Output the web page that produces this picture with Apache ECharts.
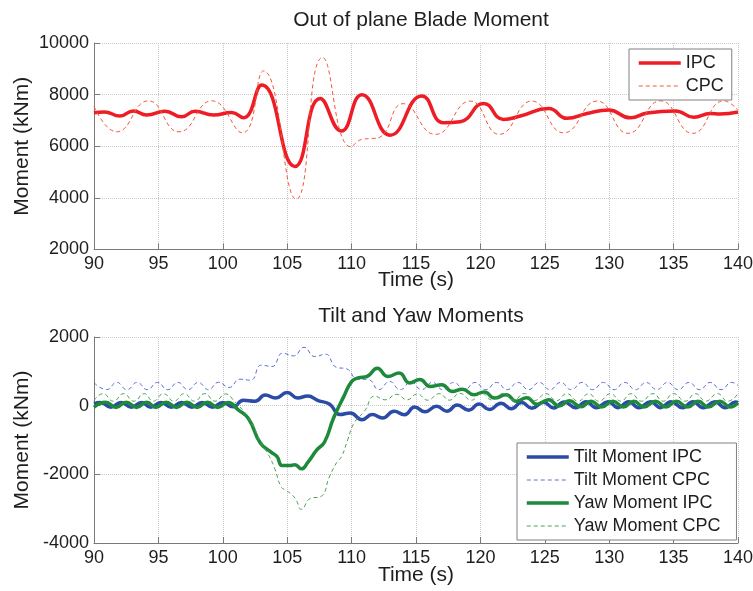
<!DOCTYPE html>
<html>
<head>
<meta charset="utf-8">
<script src="https://cdn.jsdelivr.net/npm/echarts@6/dist/echarts.min.js"></script>
<style>
  html, body { margin: 0; padding: 0; background: #fff; }
  #chart { width: 753px; height: 591px; }
</style>
</head>
<body>
<div id="chart"></div>
<script>
// time axis (s)
const timeRange = [90, 140];
const timeStep = 5;

// Out of plane blade moment [time, kNm]
const bladeIPC = [
  [90, 7300], [90.8, 7330], [92.02, 7170], [93.06, 7370], [94.1, 7210], [95.5, 7360],
  [96.8, 7140], [97.85, 7360], [99.27, 7210], [100.7, 7310], [101.6, 7100], [103.03, 8370],
  [105.6, 5220], [107.56, 7850], [109.2, 6590], [110.8, 8000], [113.0, 6430], [115.46, 7950],
  [117.14, 6910], [118.44, 6950], [120.25, 7660], [121.8, 7040], [123.1, 7170], [125.3, 7460],
  [126.73, 7080], [128.28, 7270], [129.96, 7400], [131.65, 7100], [132.95, 7290], [135.15, 7370],
  [136.57, 7120], [137.86, 7270], [138.6, 7250], [140, 7330]
];
const bladeCPC = [
  [90, 7550], [91.76, 6560], [94.22, 7760], [96.6, 6560], [99.15, 7760], [101.53, 6520],
  [103.16, 8920], [105.7, 3950], [107.74, 9440], [109.94, 5980], [110.9, 6280], [111.6, 6300],
  [112.2, 6350], [114.0, 7650], [116.5, 6460], [119.22, 7750], [121.47, 6460], [124.0, 7750],
  [126.47, 6520], [129.06, 7750], [131.47, 6500], [133.98, 7760], [136.49, 6500], [138.9, 7760],
  [140, 7400]
];

// Tilt and yaw moments [time, kNm]
const tiltIPC = [
  [90, 60], [90.5, 95], [91.3, -45], [92.1, 95], [92.9, -45], [93.7, 95], [94.4, -45], [95.2, 95],
  [96.0, -45], [96.8, 95], [97.6, -45], [98.4, 95], [99.2, -45], [100.0, 95], [100.8, -30],
  [101.6, 160], [102.5, 130], [103.3, 310], [104.1, 220], [105.0, 385], [105.8, 225], [106.6, 280],
  [107.4, 150], [108.3, 40], [109.1, -260], [109.9, -210], [110.8, -410], [111.6, -260], [112.4, -360],
  [113.3, -165], [114.1, -265], [114.9, -40], [115.7, -180], [116.6, -20], [117.4, -160], [118.2, 20],
  [119.1, -130], [119.9, 50], [120.7, -110], [121.6, 70], [122.4, -90], [123.2, 90], [124.0, -75],
  [124.9, 100], [125.7, -65], [126.5, 110], [127.4, -60], [128.2, 115], [129.0, -60], [129.9, 115],
  [130.7, -60], [131.5, 115], [132.3, -60], [133.2, 115], [134.0, -60], [134.8, 115], [135.7, -60],
  [136.5, 115], [137.3, -60], [138.2, 115], [139.0, -60], [139.8, 110], [140, 90]
];
const tiltCPC = [
  [90, 670], [90.98, 468], [91.77, 677], [92.56, 466], [93.35, 677], [94.14, 466], [94.93, 677],
  [95.72, 466], [96.51, 677], [97.3, 466], [98.09, 677], [98.88, 466], [99.67, 680], [100.5, 530],
  [101.33, 770], [102.16, 740], [102.99, 1180], [103.82, 1140], [104.65, 1530], [105.48, 1450],
  [106.31, 1700], [107.14, 1430], [107.97, 1500], [108.8, 1120], [109.63, 1070], [110.46, 770],
  [111.29, 760], [112.12, 468], [112.95, 705], [113.78, 468], [114.61, 690], [115.44, 468],
  [116.27, 680], [117.1, 466], [117.93, 677], [118.76, 466], [119.59, 677], [120.42, 466],
  [121.25, 677], [122.08, 466], [122.91, 677], [123.74, 466], [124.57, 677], [125.4, 466],
  [126.23, 677], [127.06, 466], [127.89, 677], [128.72, 466], [129.55, 677], [130.38, 466],
  [131.21, 677], [132.04, 466], [132.87, 677], [133.7, 466], [134.53, 677], [135.36, 466],
  [136.19, 677], [137.02, 466], [137.85, 677], [138.68, 466], [139.51, 677], [140, 590]
];
const yawIPC = [
  [90, -45], [90.9, 100], [91.7, -50], [92.5, 100], [93.3, -50], [94.1, 100], [94.8, -50], [95.6, 100],
  [96.4, -50], [97.2, 100], [98.0, -50], [98.8, 100], [99.6, -50], [100.4, 90], [101.2, -120],
  [102.0, -380], [102.9, -1080], [103.7, -1340], [104.2, -1480], [104.6, -1740], [105.2, -1745],
  [105.6, -1720], [106.1, -1840], [106.6, -1650], [107.3, -1290], [107.9, -1060], [108.6, -360],
  [109.4, 270], [110.0, 700], [110.5, 810], [111.2, 850], [112.0, 1090], [112.8, 850], [113.7, 950],
  [114.5, 660], [115.3, 760], [116.1, 560], [117.0, 610], [117.8, 415], [118.6, 480], [119.5, 320],
  [120.3, 400], [121.1, 220], [122.0, 320], [122.8, 130], [123.6, 230], [124.4, 40], [125.3, 175],
  [126.1, -10], [126.9, 140], [127.8, -30], [128.6, 130], [129.4, -40], [130.3, 130], [131.1, -40],
  [131.9, 130], [132.7, -40], [133.6, 130], [134.4, -40], [135.2, 130], [136.1, -40], [136.9, 130],
  [137.7, -40], [138.6, 130], [139.4, -40], [140, 80]
];
const yawCPC = [
  [90, 150], [90.7, 350], [91.5, 130], [92.3, 350], [93.1, 130], [93.9, 350], [94.6, 130], [95.4, 350],
  [96.2, 130], [97.0, 350], [97.8, 130], [98.6, 350], [99.4, 130], [100.2, 340], [101.0, 80],
  [101.8, -250], [102.5, -700], [102.9, -1050], [103.5, -1400], [104.0, -1800], [104.5, -2350],
  [104.8, -2450], [105.3, -2570], [105.7, -2750], [106.1, -3020], [106.8, -2700], [107.6, -2650],
  [108.3, -2050], [108.9, -1620], [109.2, -1500], [109.7, -990], [110.2, -500], [111.0, -160],
  [111.8, 280], [112.6, 170], [113.5, 330], [114.3, 170], [115.1, 340], [115.9, 160], [116.8, 350],
  [117.6, 160], [118.4, 360], [119.3, 160], [120.1, 360], [120.9, 165], [121.8, 360], [122.6, 160],
  [123.4, 355], [124.2, 150], [125.1, 350], [125.9, 140], [126.7, 350], [127.6, 130], [128.4, 350],
  [129.2, 130], [130.1, 350], [130.9, 130], [131.7, 350], [132.5, 130], [133.4, 350], [134.2, 130],
  [135.0, 350], [135.9, 130], [136.7, 350], [137.5, 130], [138.4, 350], [139.2, 130], [140, 350]
];

const titles = ['Out of plane Blade Moment', 'Tilt and Yaw Moments'];
const bladeRange = [2000, 10000];
const tiltYawRange = [-4000, 2000];
const momentStep = 2000;

const font = "'Liberation Sans', Arial, sans-serif";
const ink = '#1e1e1e';
const axisGray = '#7a7a7a';
const dotGray = '#c9c9c9';

function xAxis(gridIndex, gap) {
  return {
    type: 'value', gridIndex,
    min: timeRange[0], max: timeRange[1], interval: timeStep,
    name: 'Time (s)', nameLocation: 'middle', nameGap: gap, nameMoveOverlap: false,
    nameTextStyle: { fontFamily: font, fontSize: 21, color: ink },
    axisLine: { onZero: false, lineStyle: { color: axisGray, width: 1 } },
    axisTick: { inside: true, length: 6, lineStyle: { color: axisGray } },
    axisLabel: { fontFamily: font, fontSize: 18, color: ink, margin: 6 },
    splitLine: { show: true, lineStyle: { color: dotGray, type: 'dotted' } }
  };
}
function yAxis(gridIndex, range) {
  return {
    type: 'value', gridIndex,
    min: range[0], max: range[1], interval: momentStep,
    name: 'Moment (kNm)', nameLocation: 'middle', nameGap: 61, nameMoveOverlap: false,
    nameTextStyle: { fontFamily: font, fontSize: 21, color: ink },
    axisLine: { show: true, onZero: false, lineStyle: { color: axisGray, width: 1 } },
    axisTick: { show: true, inside: true, length: 6, lineStyle: { color: axisGray } },
    axisLabel: { fontFamily: font, fontSize: 18, color: ink, margin: 5, formatter: v => String(v) },
    splitLine: { show: true, lineStyle: { color: dotGray, type: 'dotted' } }
  };
}
function line(name, data, idx, color, width, dashed) {
  return {
    name, type: 'line', data, xAxisIndex: idx, yAxisIndex: idx,
    smooth: 0.5, symbol: 'none', showSymbol: false,
    lineStyle: { color, width, type: dashed ? [4, 3] : 'solid' },
    itemStyle: { color }
  };
}
const legendBase = {
  orient: 'vertical', itemWidth: 42, itemHeight: 14, itemGap: 3,
  backgroundColor: '#fff', borderColor: '#808080', borderWidth: 1, borderRadius: 0,
  itemStyle: { opacity: 0 },
  lineStyle: { width: 'inherit' },
  textStyle: { fontFamily: font, fontSize: 18, color: ink, lineHeight: 20 }
};

const chart = echarts.init(document.getElementById('chart'));
chart.setOption({
  animation: false,
  backgroundColor: '#fff',
  title: [
    { text: titles[0], left: 416, top: 5, textAlign: 'center',
      textStyle: { fontFamily: font, fontSize: 21, fontWeight: 'normal', color: ink } },
    { text: titles[1], left: 416, top: 301, textAlign: 'center',
      textStyle: { fontFamily: font, fontSize: 21, fontWeight: 'normal', color: ink } }
  ],
  legend: [
    Object.assign({}, legendBase, { data: ['IPC', 'CPC'], left: 629, top: 49, padding: [4, 8, 4, 8] }),
    Object.assign({}, legendBase, {
      data: ['Tilt Moment IPC', 'Tilt Moment CPC', 'Yaw Moment IPC', 'Yaw Moment CPC'],
      left: 517, top: 443, padding: [4, 16, 4, 8]
    })
  ],
  grid: [
    { left: 94, right: 15, top: 43, height: 206.5, outerBoundsMode: 'none', containLabel: false },
    { left: 94, right: 15, top: 337, height: 206, outerBoundsMode: 'none', containLabel: false }
  ],
  xAxis: [xAxis(0, 20), xAxis(1, 22)],
  yAxis: [yAxis(0, bladeRange), yAxis(1, tiltYawRange)],
  series: [
    line('IPC', bladeIPC, 0, '#ee1c24', 3.5, false),
    line('CPC', bladeCPC, 0, '#f2573a', 1, true),
    line('Tilt Moment IPC', tiltIPC, 1, '#2a4ba6', 3.5, false),
    line('Tilt Moment CPC', tiltCPC, 1, '#5a6fd4', 1, true),
    line('Yaw Moment IPC', yawIPC, 1, '#1d8a3b', 3.5, false),
    line('Yaw Moment CPC', yawCPC, 1, '#4f9f58', 1, true)
  ]
});
</script>
</body>
</html>
